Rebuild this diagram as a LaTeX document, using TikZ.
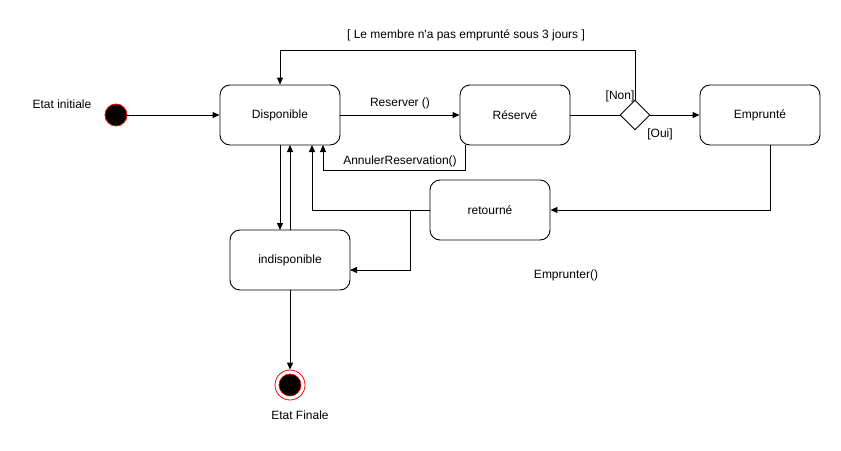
\documentclass[tikz,border=0pt]{standalone}
\usepackage{fontspec}
\setmainfont{Liberation Sans}
\usetikzlibrary{arrows.meta,shapes.geometric}
\begin{document}
\begin{tikzpicture}[x=1pt,y=-1pt,
  every node/.style={font=\fontsize{12}{14}\selectfont},
  state/.style={draw,rounded corners=10pt,minimum width=120pt,minimum height=60pt,inner sep=0pt,line width=0.9pt},
  conn/.style={line width=0.9pt},
  arr/.style={conn,-{Triangle[length=7pt,width=6pt]}},
  lbl/.style={inner sep=0pt}]
\useasboundingbox (0,0) rectangle (841,450);
\node[state] (disp) at (280,115) {Disponible};
\node[state,minimum width=110pt] (res) at (515,115) {Réservé};
\node[state] (emp) at (760,115) {Emprunté};
\node[state] (ret) at (490,210) {retourné};
\node[state] (indisp) at (290,260) {indisponible};
\node[diamond,draw,line width=0.9pt,minimum width=30pt,minimum height=30pt,inner sep=0pt] (dec) at (635,115) {};
\node[circle,draw=red,fill=black,minimum size=22pt,inner sep=0pt,line width=0.8pt] (init) at (116,115) {};
\node[circle,draw=red,minimum size=30pt,inner sep=0pt,line width=0.8pt] (fin) at (290,385) {};
\node[circle,draw=red,fill=black,minimum size=22pt,inner sep=0pt,line width=0.6pt] (finin) at (290,385) {};
\node[lbl] (linit) at (62,104) {Etat initiale};
\node[lbl] (lfin) at (300,415) {Etat Finale};
\node[lbl] (lres) at (400,103) {Reserver ()};
\node[lbl] (lann) at (400,161) {AnnulerReservation()};
\node[lbl] (lmem) at (466,35) {[ Le membre n\textquotesingle a pas emprunté sous 3 jours ]};
\node[lbl] (lnon) at (620,96) {[Non]};
\node[lbl] (loui) at (660,134) {[Oui]};
\node[lbl] (lempr) at (566,275) {Emprunter()};
\coordinate (c1) at (635,50);
\coordinate (c2) at (280,50);
\draw[arr] (init) -- (disp);
\draw[arr] (disp) -- (res);
\draw[conn] (res) -- (dec);
\draw[arr] (dec) -- (emp);
\draw[arr] (dec.north) -- (c1) -- (c2) -- (disp.north);
\draw[arr] (465,145) -- (465,170) -- (323,170) -- (323,145);
\draw[arr] (emp.south -| 770,0) -- (770,210) -- (ret.east);
\draw[arr] (ret.west) -- (312,210) -- (312,145);
\draw[arr] (410,210) -- (410,270) -- (350,270);
\draw[arr] (280,145) -- (280,230);
\draw[arr] (290,230) -- (290,145);
\draw[arr] (indisp.south) -- (fin.north);
\end{tikzpicture}
\end{document}
